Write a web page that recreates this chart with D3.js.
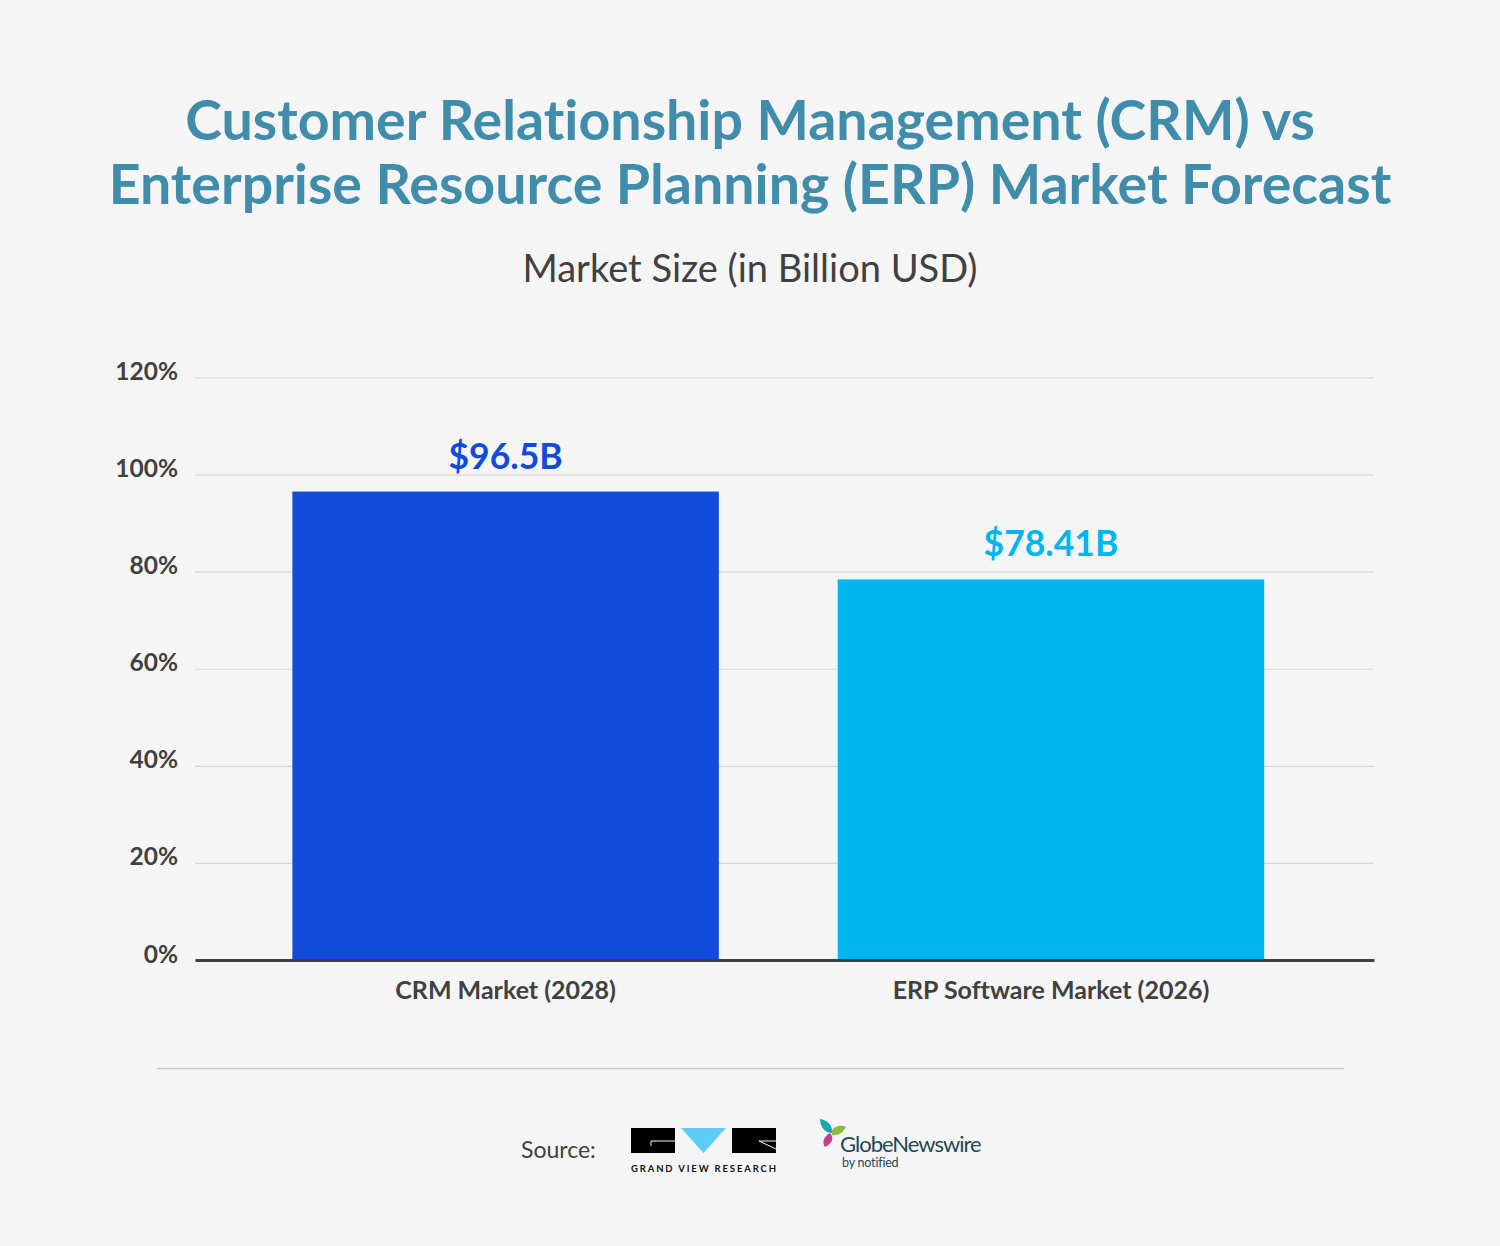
<!DOCTYPE html>
<html>
<head>
<meta charset="utf-8">
<script src="https://d3js.org/d3.v7.min.js"></script>
<style>
  html, body { margin: 0; padding: 0; background: #f5f5f5; }
  svg { display: block; }
  text { font-family: Lato, "Open Sans", sans-serif; font-variant-ligatures: none; }
</style>
</head>
<body>
<svg id="chart"></svg>
<script>
// Data
const categories = ["CRM Market (2028)", "ERP Software Market (2026)"];
const values = [96.5, 78.41];
const valueLabels = ["$96.5B", "$78.41B"];
const barColors = ["#114bda", "#00b6f1"];
const yTicks = [0, 20, 40, 60, 80, 100, 120];
const titleLines = ["Customer Relationship Management (CRM) vs", "Enterprise Resource Planning (ERP) Market Forecast"];

const width = 1500, height = 1246;
const dark = "#404040";

const svg = d3.select("#chart").attr("width", width).attr("height", height);
svg.append("rect").attr("width", width).attr("height", height).attr("fill", "#f5f5f5");

const x = d3.scaleBand().domain(categories).range([195, 1374])
    .paddingInner(0.218).paddingOuter(0.19).align(0.47);
const y = d3.scaleLinear().domain([0, 120]).range([960, 377.5]);

// Title and subtitle
svg.selectAll(".title").data(titleLines).enter().append("text")
    .attr("class", "title")
    .attr("x", 750)
    .attr("y", (d, i) => 140 + i * 64)
    .attr("text-anchor", "middle")
    .attr("font-size", 55.5)
    .attr("font-weight", 700)
    .attr("fill", "#3f8cab")
    .text(d => d);

svg.append("text")
    .attr("x", 750).attr("y", 282)
    .attr("text-anchor", "middle")
    .attr("font-size", 38)
    .attr("fill", dark)
    .text("Market Size (in Billion USD)");

// Gridlines and y labels
const yAxis = svg.append("g")
    .attr("transform", "translate(195,0)")
    .call(d3.axisLeft(y).tickValues(yTicks).tickSize(-1179).tickPadding(17).tickFormat(d => d + "%"));
yAxis.select(".domain").remove();
yAxis.selectAll(".tick line").attr("stroke", "#d6d6d6").attr("stroke-width", 1.2);
yAxis.selectAll(".tick text")
    .attr("dy", 2)
    .attr("font-size", 24.5)
    .attr("font-weight", 700)
    .attr("font-family", "Lato, sans-serif")
    .attr("fill", dark);

// Bars
svg.selectAll(".bar").data(values).enter().append("rect")
    .attr("class", "bar")
    .attr("x", (d, i) => x(categories[i]))
    .attr("y", d => y(d))
    .attr("width", x.bandwidth())
    .attr("height", d => y(0) - y(d))
    .attr("fill", (d, i) => barColors[i]);

svg.selectAll(".value").data(values).enter().append("text")
    .attr("class", "value")
    .attr("x", (d, i) => x(categories[i]) + x.bandwidth() / 2)
    .attr("y", d => y(d) - 23)
    .attr("text-anchor", "middle")
    .attr("font-size", 35.5)
    .attr("font-weight", 700)
    .attr("fill", (d, i) => barColors[i])
    .text((d, i) => valueLabels[i]);

// Baseline and x labels
const xAxis = svg.append("g")
    .attr("transform", "translate(0,960)")
    .call(d3.axisBottom(x).tickSize(0).tickPadding(21));
xAxis.select(".domain").attr("stroke", dark).attr("stroke-width", 3);
xAxis.selectAll(".tick text")
    .attr("font-size", 25)
    .attr("font-weight", 700)
    .attr("font-family", "Lato, sans-serif")
    .attr("fill", dark);

// Footer rule
svg.append("line")
    .attr("x1", 157).attr("x2", 1344).attr("y1", 1068.5).attr("y2", 1068.5)
    .attr("stroke", "#c8c8c8").attr("stroke-width", 1.5);

svg.append("text")
    .attr("x", 521).attr("y", 1158)
    .attr("font-size", 23)
    .attr("fill", dark)
    .text("Source:");

// Grand View Research logo
const gvr = svg.append("g");
gvr.append("rect").attr("x", 631).attr("y", 1128).attr("width", 44).attr("height", 25).attr("fill", "#000");
gvr.append("path").attr("d", "M675 1141H651V1146").attr("fill", "none").attr("stroke", "#f5f5f5").attr("stroke-width", 1);
gvr.append("path").attr("d", "M681 1128H726L703.5 1153Z").attr("fill", "#5fcbf9");
gvr.append("rect").attr("x", 732).attr("y", 1128).attr("width", 44).attr("height", 25).attr("fill", "#000");
gvr.append("path").attr("d", "M776 1141L759 1141L776 1149").attr("fill", "none").attr("stroke", "#f5f5f5").attr("stroke-width", 1);
gvr.append("text")
    .attr("x", 631).attr("y", 1171.5)
    .attr("font-size", 9.5)
    .attr("font-weight", 700)
    .attr("letter-spacing", 1.85)
    .attr("fill", "#111")
    .text("GRAND VIEW RESEARCH");

// GlobeNewswire logo
const globe = svg.append("g");
globe.append("path").attr("d", "M820 1119C828 1120 833 1126 832 1133C825 1133 820 1127 820 1119Z").attr("fill", "#1fa7ae");
globe.append("path").attr("d", "M832 1130C836 1125 842 1125 846 1127C843 1133 838 1136 832 1135Z").attr("fill", "#8fbc3f");
globe.append("path").attr("d", "M830 1133C834 1138 833 1143 825 1147C822 1143 823 1137 830 1133Z").attr("fill", "#cc3d87");
globe.append("text")
    .attr("x", 840).attr("y", 1152)
    .attr("font-size", 22)
    .attr("letter-spacing", -1)
    .attr("fill", "#1d4a55")
    .text("GlobeNewswire");
globe.append("text")
    .attr("x", 842).attr("y", 1167)
    .attr("font-size", 12.5)
    .attr("letter-spacing", -0.2)
    .attr("fill", "#1d4a55")
    .text("by notified");
</script>
</body>
</html>
